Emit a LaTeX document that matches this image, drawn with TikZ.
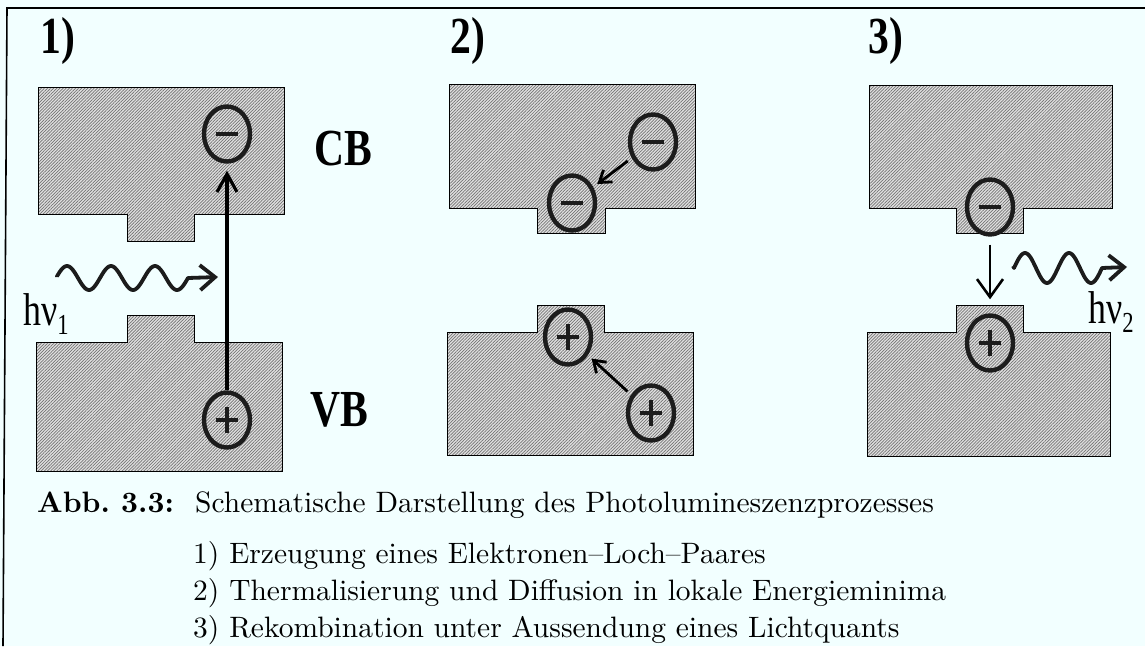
\documentclass[tikz,border=0pt]{standalone}
\usepackage{fontspec}
\usetikzlibrary{arrows.meta,patterns.meta,shapes.geometric}
\newfontfamily\lblfont{Liberation Serif}
\definecolor{paper}{HTML}{F2FFFF}
\definecolor{ink}{HTML}{1C1C1C}
\newcommand\hnu[1]{\scalebox{0.78}[1]{\lblfont\fontsize{46}{46}\selectfont hν\raisebox{-9pt}{\fontsize{29}{29}\selectfont #1}}}
\newcommand\boldlbl[1]{\scalebox{0.8}[1]{\lblfont\bfseries\fontsize{52}{52}\selectfont #1}}
\newcommand\captxt[1]{\scalebox{2.95}{#1}}
\begin{document}
\begin{tikzpicture}[x=1pt,y=-1pt,
  band/.style={draw=black,line width=1pt,preaction={fill=black!12},
    pattern={Lines[angle=45,distance=2.2pt,line width=0.7pt]},pattern color=black!55},
  carrier/.style={ellipse,draw=ink,line width=4.4pt,minimum width=46pt,
    minimum height=55pt,inner sep=0pt},
  elec/.style={carrier,path picture={\draw[ink,line width=4.5pt]
    ([xshift=-11pt]path picture bounding box.center) --
    ([xshift=11pt]path picture bounding box.center);}},
  hole/.style={carrier,path picture={\draw[ink,line width=4.5pt]
    ([xshift=-11pt]path picture bounding box.center) --
    ([xshift=11pt]path picture bounding box.center)
    ([yshift=-13pt]path picture bounding box.center) --
    ([yshift=13pt]path picture bounding box.center);}},
  panel/.style={anchor=base west,inner sep=0pt},
  caption/.style={anchor=base west,inner sep=0pt},
  jump/.style={line width=3.2pt,-{Straight Barb[length=18pt,width=20pt]}},
  drift/.style={line width=2.8pt,-{Straight Barb[length=11pt,width=15pt]}},
  photon/.style={line width=3.8pt,ink,line join=round,
    -{Straight Barb[length=15pt,width=25pt]}},
  frame/.style={line width=1.6pt,black}]

% page and frame
\fill[paper] (0,0) rectangle (1145,646);
\useasboundingbox (0,0) rectangle (1145,646);
\coordinate (fa) at (1145,8);
\coordinate (fb) at (7,8);
\coordinate (fc) at (3,646);
\draw[frame] (fa) -- (fb) -- (fc);

% panel headings
\node[panel] (p1) at (40,53) {\boldlbl{1)}};
\node[panel] (p2) at (450,53) {\boldlbl{2)}};
\node[panel] (p3) at (868,53) {\boldlbl{3)}};

% ---- 1) generation of an electron-hole pair
\draw[band] (38,87) -- (284,87) -- (284,214) -- (194,214) -- (194,241)
  -- (127,241) -- (127,214) -- (38,214) -- cycle;
\draw[band] (36,342) -- (127,342) -- (127,315) -- (194,315) -- (194,342)
  -- (282,342) -- (282,471) -- (36,471) -- cycle;
\node[elec] (e1) at (227,134) {};
\node[hole] (h1) at (227,420) {};
\draw[jump,shorten >=7pt] (h1) -- (e1);
\coordinate (w1s) at (57,277);
\coordinate (w1e) at (218,277);
\draw[photon] (w1s) -- plot[domain=57:188,samples=100]
  (\x,{278-12*sin(8.1818*(\x-56))}) -- (w1e);
\node[panel] (nu1) at (23,325) {\hnu{1}};
\node[panel] (cb) at (314,165) {\boldlbl{CB}};
\node[panel] (vb) at (310,426) {\boldlbl{VB}};

% ---- 2) thermalisation and diffusion into local minima
\draw[band] (449,84) -- (695,84) -- (695,208) -- (605,208) -- (605,233)
  -- (537,233) -- (537,208) -- (449,208) -- cycle;
\draw[band] (447,332) -- (537,332) -- (537,305) -- (604,305) -- (604,332)
  -- (693,332) -- (693,455) -- (447,455) -- cycle;
\node[elec] (e2a) at (653,142) {};
\node[elec] (e2b) at (572,203) {};
\node[hole] (h2a) at (568,337) {};
\node[hole] (h2b) at (651,413) {};
\draw[drift,shorten <=5pt,shorten >=5pt] (e2a) -- (e2b);
\draw[drift,shorten <=5pt,shorten >=5pt] (h2b) -- (h2a);

% ---- 3) recombination with emission of a photon
\draw[band] (869,85) -- (1112,85) -- (1112,208) -- (1023,208) -- (1023,233)
  -- (956,233) -- (956,208) -- (869,208) -- cycle;
\draw[band] (867,332) -- (956,332) -- (956,305) -- (1023,305) -- (1023,332)
  -- (1110,332) -- (1110,456) -- (867,456) -- cycle;
\node[elec] (e3) at (990,207) {};
\node[hole] (h3) at (990,343) {};
\draw[line width=2.6pt,-{Straight Barb[length=18pt,width=26pt]},
  shorten <=8pt,shorten >=14pt] (e3) -- (h3);
\coordinate (w3s) at (1013,266);
\coordinate (w3e) at (1127,267);
\draw[photon] (w3s) -- plot[domain=1014:1102,samples=80]
  (\x,{268-15*sin(8.1818*(\x-1014))}) -- (w3e);
\node[panel] (nu2) at (1088,323) {\hnu{2}};

% caption
\node[caption] (abb) at (37,512) {\captxt{\bfseries Abb.~3.3:}};
\node[caption] (c0) at (195,512) {\captxt{Schematische Darstellung des Photolumineszenzprozesses}};
\node[caption] (c1) at (193,563) {\captxt{1) Erzeugung eines Elektronen–Loch–Paares}};
\node[caption] (c2) at (193,600) {\captxt{2) Thermalisierung und Diffusion in lokale Energieminima}};
\node[caption] (c3) at (193,637) {\captxt{3) Rekombination unter Aussendung eines Lichtquants}};
\end{tikzpicture}
\end{document}
